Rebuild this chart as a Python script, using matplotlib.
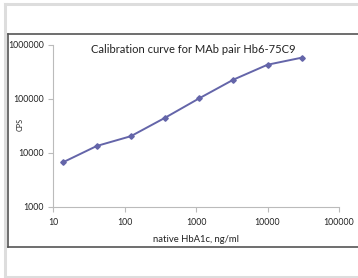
import matplotlib
matplotlib.use("Agg")
import matplotlib.pyplot as plt
from matplotlib.lines import Line2D

concentration = [13.7, 41, 123, 370, 1111, 3333, 10000, 30000]
cps = [6700, 13500, 20500, 45000, 103000, 228000, 431000, 582000]
x_ticks = [10, 100, 1000, 10000, 100000]
y_ticks = [1000, 10000, 100000, 1000000]
title = "Calibration curve for MAb pair Hb6-75C9"
xlabel = "native HbA1c, ng/ml"
ylabel = "CPS"

plt.rcParams['font.family'] = ['Lato', 'DejaVu Sans']
W, H = 358, 278
fig = plt.figure(figsize=(W/100, H/100), dpi=100)

# outer light gray border
fig.add_artist(Line2D([4.5/W, 4.5/W], [1-4/H, 1-276.5/H], color='#dddddd', lw=2.2))
fig.add_artist(Line2D([4.5/W, 1], [1-4/H, 1-4/H], color='#dddddd', lw=2.2))
fig.add_artist(Line2D([4.5/W, 1], [1-276.5/H, 1-276.5/H], color='#dddddd', lw=2.2))
# inner dark frame
fig.add_artist(Line2D([8/W, 8/W], [1-34/H, 1-247/H], color='#555555', lw=1.2))
fig.add_artist(Line2D([8/W, 1], [1-34/H, 1-34/H], color='#555555', lw=1.2))
fig.add_artist(Line2D([8/W, 1], [1-247/H, 1-247/H], color='#555555', lw=1.2))

x0, x1 = 53, 339
y0, y1 = 45, 207
ax = fig.add_axes([x0/W, 1-y1/H, (x1-x0)/W, (y1-y0)/H])
ax.set_xscale('log')
ax.set_yscale('log')
ax.set_xlim(10, 100000)
ax.set_ylim(1000, 1000000)
ax.plot(concentration, cps, color='#6465a9', lw=1.4, marker='D', ms=2.8,
        markerfacecolor='#6465a9', markeredgecolor='#6465a9')
ax.set_xticks(x_ticks)
ax.set_xticklabels([str(v) for v in x_ticks])
ax.set_yticks(y_ticks)
ax.set_yticklabels([str(v) for v in y_ticks])
ax.minorticks_off()
for s in ['top', 'right']:
    ax.spines[s].set_visible(False)
for s in ['left', 'bottom']:
    ax.spines[s].set_color('#bbbbbb')
    ax.spines[s].set_linewidth(0.8)
ax.tick_params(axis='both', which='major', direction='out', length=3.6, width=0.8,
               color='#bbbbbb', labelsize=6.3, labelcolor='#222222', pad=3)
ax.tick_params(axis='x', pad=4.5)
ax.set_xlabel(xlabel, fontsize=6.8, color='#222222')
ax.xaxis.set_label_coords(0.5, -0.175)
ax.set_ylabel(ylabel, fontsize=5.2, color='#222222')
ax.yaxis.set_label_coords(-0.101, 0.512)
ax.text(0.49, 0.97, title, transform=ax.transAxes, ha='center', va='center',
        fontsize=8, color='#222222')
fig.savefig('out.png', dpi=100)
